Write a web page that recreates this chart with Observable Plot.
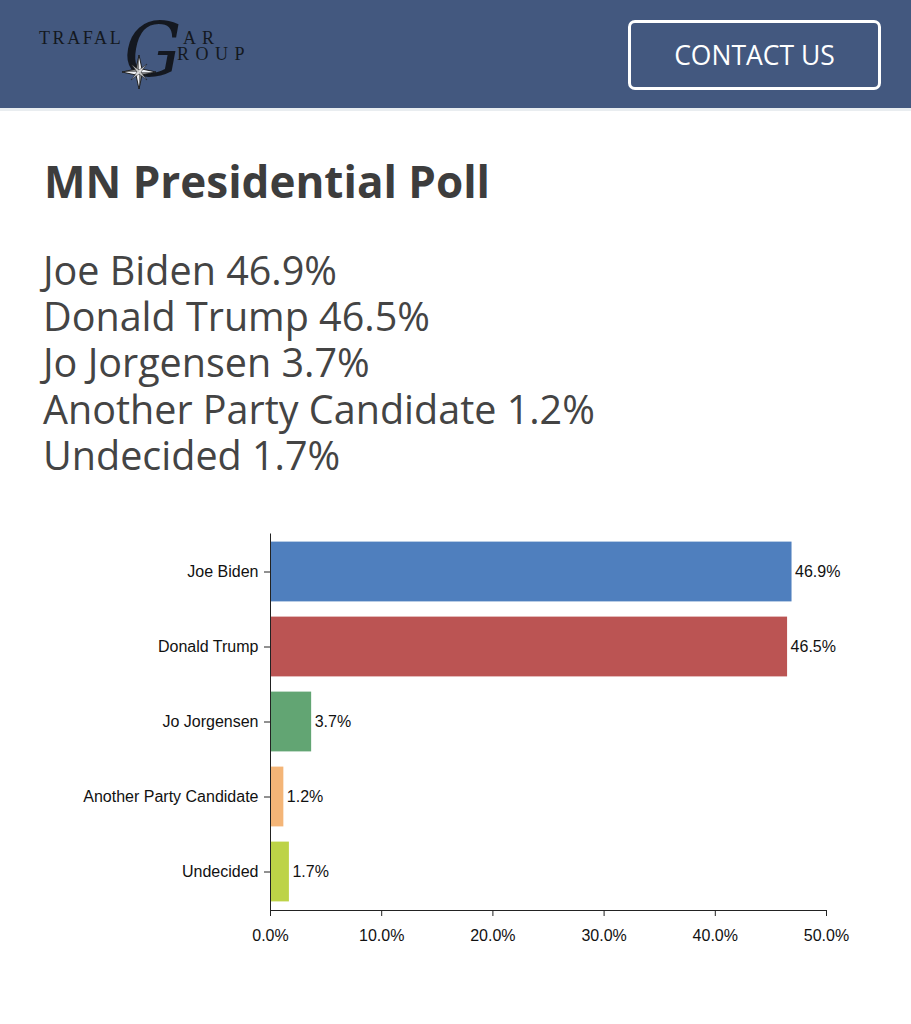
<!DOCTYPE html>
<html><head><meta charset="utf-8">
<script src="https://cdn.jsdelivr.net/npm/d3@7"></script>
<script src="https://cdn.jsdelivr.net/npm/@observablehq/plot@0.6"></script>
<style>
html,body{margin:0;padding:0;background:#fff;width:911px;overflow:hidden;}
#hdr{position:relative;height:108px;background:#43587f;border-bottom:3px solid #e9edf0;}
#logo{position:absolute;left:0;top:0;}
#btn{position:absolute;left:628px;top:20px;width:247px;height:64px;border:3px solid #fff;border-radius:7px;color:#fff;font-family:"Open Sans",sans-serif;font-size:26.5px;line-height:64px;text-align:center;}
h1{margin:0;position:absolute;left:44px;top:159px;line-height:1;font-family:"Open Sans",sans-serif;font-weight:700;font-size:44px;color:#3d3d3d;}
#sub{position:absolute;left:43px;top:247px;font-family:"Open Sans",sans-serif;font-weight:400;font-size:39.5px;color:#444;}
#sub div{height:46.2px;line-height:46.2px;white-space:nowrap;}
#chart{position:absolute;left:0;top:510px;}
</style></head>
<body>
<div id="hdr">
  <svg id="logo" width="300" height="105">
    <g font-family="'Liberation Serif','DejaVu Serif',serif" fill="#141820">
      <text x="39" y="44" font-size="18" letter-spacing="2.6">TRAFAL</text>
      <text x="183" y="44" font-size="18" letter-spacing="6">AR</text>
      <text x="177" y="60" font-size="18" letter-spacing="6.5">ROUP</text>
      <text x="0" y="0" font-size="72" font-style="italic" font-family="'DejaVu Serif',serif" transform="translate(124,76) scale(1.0,1.05)">G</text>
    </g>
    <g transform="translate(139,72)">
      <polygon points="0,-17 3,-3 17,0 3,3 0,17 -3,3 -17,0 -3,-3" fill="#eef0f4" stroke="#111" stroke-width="0.9"/>
      <polygon points="0,-17 0,0 -17,0 -3,-3" fill="#222" opacity="0.55"/>
      <polygon points="0,17 0,0 17,0 3,3" fill="#222" opacity="0.55"/>
      <polygon points="-8,-8 0,-2 8,-8 2,0 8,8 0,2 -8,8 -2,0" fill="#ddd" stroke="#111" stroke-width="0.6" opacity="0.8"/>
    </g>
  </svg>
  <div id="btn">CONTACT US</div>
</div>
<h1>MN Presidential Poll</h1>
<div id="sub"><div>Joe Biden 46.9%</div><div>Donald Trump 46.5%</div><div>Jo Jorgensen 3.7%</div><div>Another Party Candidate 1.2%</div><div>Undecided 1.7%</div></div>
<div id="chart"></div>
<script>
const candidates = ["Joe Biden", "Donald Trump", "Jo Jorgensen", "Another Party Candidate", "Undecided"];
const shares = [46.9, 46.5, 3.7, 1.2, 1.7];
const barColors = ["#4f7fbe", "#bb5453", "#62a573", "#f4b577", "#bdd347"];
const xTicks = [0, 10, 20, 30, 40, 50];

const data = candidates.map((c, i) => ({candidate: c, share: shares[i], color: barColors[i]}));

const chart = Plot.plot({
  width: 911,
  height: 440,
  marginTop: 23.5,
  marginBottom: 40,
  marginLeft: 270,
  marginRight: 85,
  style: {fontFamily: "'Liberation Sans', Arial, sans-serif", fontSize: "16px", color: "#111", background: "transparent"},
  x: {domain: [0, 50], label: null},
  y: {domain: candidates, padding: 0, label: null},
  marks: [
    Plot.barX(data, {x: "share", y: "candidate", fill: "color", insetTop: 7.6, insetBottom: 7.6}),
    Plot.text(data, {x: "share", y: "candidate", text: d => d.share.toFixed(1) + "%", textAnchor: "start", dx: 3, fontSize: 16, fill: "#111"}),
    Plot.frame({anchor: "left", stroke: "#222"}),
    Plot.frame({anchor: "bottom", stroke: "#222"}),
    Plot.axisX({ticks: xTicks, tickFormat: d => d.toFixed(1) + "%", tickSize: 6, tickPadding: 13, stroke: "#222", fontSize: 16, label: null}),
    Plot.axisY({tickSize: 6, tickPadding: 6, stroke: "#222", fontSize: 16, label: null})
  ]
});
document.getElementById("chart").appendChild(chart);
</script>
</body></html>
